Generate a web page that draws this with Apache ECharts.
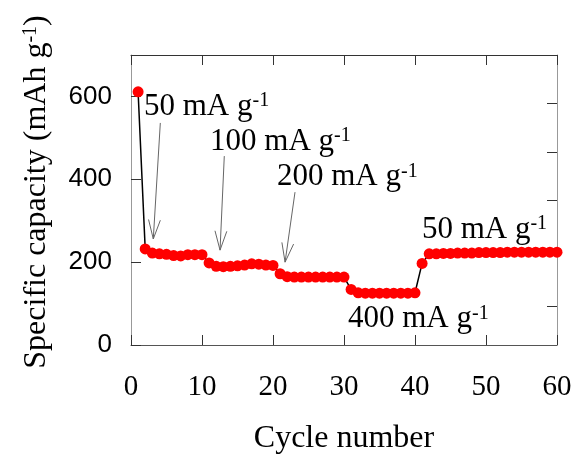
<!DOCTYPE html>
<html>
<head>
<meta charset="utf-8">
<script src="https://cdn.jsdelivr.net/npm/echarts@6/dist/echarts.min.js"></script>
<style>html,body{margin:0;padding:0;background:#fff}</style>
</head>
<body>
<div id="main" style="width:576px;height:460px"></div>
<script>
// cycle number 1..60 and specific capacity (mAh g-1)
const cycles = [];
for (let i = 1; i <= 60; i++) cycles.push(i);
const capacity = [
    611, 232, 222, 220, 219, 216, 215, 218, 218, 218,
    198, 190, 189, 190, 191, 193, 196, 195, 193, 192,
    172, 165, 164, 164, 164, 164, 164, 164, 164, 164,
    134, 126, 125, 125, 125, 125, 125, 125, 125, 126,
    197, 220, 220, 221, 221, 222, 222, 222, 223, 223,
    223, 223, 224, 224, 224, 224, 224, 224, 224, 224
];
const xTicks = [0, 10, 20, 30, 40, 50, 60];
const yTicks = [0, 200, 400, 600];
const rightTicks = [93, 349, 465, 584];
const rateTexts = ['50 mA g', '100 mA g', '200 mA g', '50 mA g', '400 mA g'];
// where each rate label sits (left edge, middle), in data units
const rateAnchors = [[1.83, 576], [11.13, 491], [20.56, 406], [40.98, 279], [30.56, 62]];
// arrows: [x start, y start, x tip, y tip], in data units
const arrows = [[4.13, 536, 3.14, 256], [13.14, 456, 12.54, 229], [23.1, 369, 21.7, 200]];

const serif = '"Liberation Serif", "Times New Roman", serif';
const sans = '"Liberation Sans", Arial, sans-serif';

const chartDom = document.getElementById('main');
const myChart = echarts.init(chartDom);

const tickStyle = { show: true, inside: true, length: 10, lineStyle: { color: '#333', width: 1 } };

const option = {
    backgroundColor: '#fff',
    animation: false,
    grid: { left: 131, right: 19, top: 55, bottom: 103 },
    xAxis: [
        {
            type: 'value', min: 0, max: 60, interval: 10, position: 'bottom',
            axisLine: { onZero: false, lineStyle: { color: '#555', width: 1 } },
            axisTick: tickStyle,
            splitLine: { show: false },
            axisLabel: { color: '#000', fontFamily: serif, fontSize: 29, margin: 28 },
            name: 'Cycle number', nameLocation: 'middle', nameGap: 78,
            nameTextStyle: { color: '#000', fontFamily: serif, fontSize: 32 }
        },
        {
            type: 'value', min: 0, max: 60, interval: 10, position: 'top',
            axisLine: { show: true, onZero: false, lineStyle: { color: '#333', width: 1 } },
            axisTick: tickStyle, axisLabel: { show: false }, splitLine: { show: false }
        }
    ],
    yAxis: [
        {
            type: 'value', min: 0, max: 700, interval: 200, position: 'left',
            axisLine: { show: true, onZero: false, lineStyle: { color: '#999', width: 1 } },
            axisTick: tickStyle,
            splitLine: { show: false },
            axisLabel: { color: '#000', fontFamily: sans, fontSize: 26, margin: 19, showMaxLabel: false },
            name: '{m|Specific capacity (mAh g}{s|-1}{m|)}', nameLocation: 'middle', nameGap: 78,
            nameTextStyle: {
                color: '#000',
                padding: [0, 0, 0, 16],
                rich: {
                    m: { fontFamily: serif, fontSize: 32, color: '#000' },
                    s: { fontFamily: serif, fontSize: 20, color: '#000', verticalAlign: 'top' }
                }
            }
        },
        {
            type: 'value', min: 0, max: 700, position: 'right',
            axisLine: { show: true, onZero: false, lineStyle: { color: '#999', width: 1 } },
            axisTick: Object.assign({}, tickStyle, { customValues: rightTicks }),
            axisLabel: { show: false }, splitLine: { show: false }
        }
    ],
    series: [
        {
            type: 'line',
            data: cycles.map((c, i) => [c, capacity[i]]),
            symbol: 'circle', symbolSize: 11,
            itemStyle: { color: '#ff0000' },
            lineStyle: { color: '#000', width: 1.5 },
            z: 3
        },
        {
            type: 'custom',
            data: arrows,
            encode: { x: [0, 2], y: [1, 3] },
            silent: true,
            renderItem: function (params, api) {
                const s = api.coord([api.value(0), api.value(1)]);
                const e = api.coord([api.value(2), api.value(3)]);
                const ang = Math.atan2(e[1] - s[1], e[0] - s[0]);
                const L = 20, a = 0.3;
                const p1 = [e[0] - L * Math.cos(ang - a), e[1] - L * Math.sin(ang - a)];
                const p2 = [e[0] - L * Math.cos(ang + a), e[1] - L * Math.sin(ang + a)];
                return {
                    type: 'group',
                    children: [
                        { type: 'line', shape: { x1: s[0], y1: s[1], x2: e[0], y2: e[1] }, style: { stroke: '#666', lineWidth: 1 } },
                        { type: 'polyline', shape: { points: [p1, e, p2] }, style: { stroke: '#666', fill: null, lineWidth: 1 } }
                    ]
                };
            },
            z: 2
        },
        {
            type: 'custom',
            data: rateAnchors,
            encode: { x: 0, y: 1 },
            silent: true,
            renderItem: function (params, api) {
                const p = api.coord([api.value(0), api.value(1)]);
                return {
                    type: 'text',
                    x: p[0], y: p[1],
                    style: {
                        text: '{m|' + rateTexts[params.dataIndex] + '}{s|-1}',
                        verticalAlign: 'middle', align: 'left',
                        rich: {
                            m: { fontFamily: serif, fontSize: 31, fill: '#000' },
                            s: { fontFamily: serif, fontSize: 20, fill: '#000', verticalAlign: 'top' }
                        }
                    }
                };
            },
            z: 4
        }
    ]
};
option && myChart.setOption(option);
</script>
</body>
</html>
